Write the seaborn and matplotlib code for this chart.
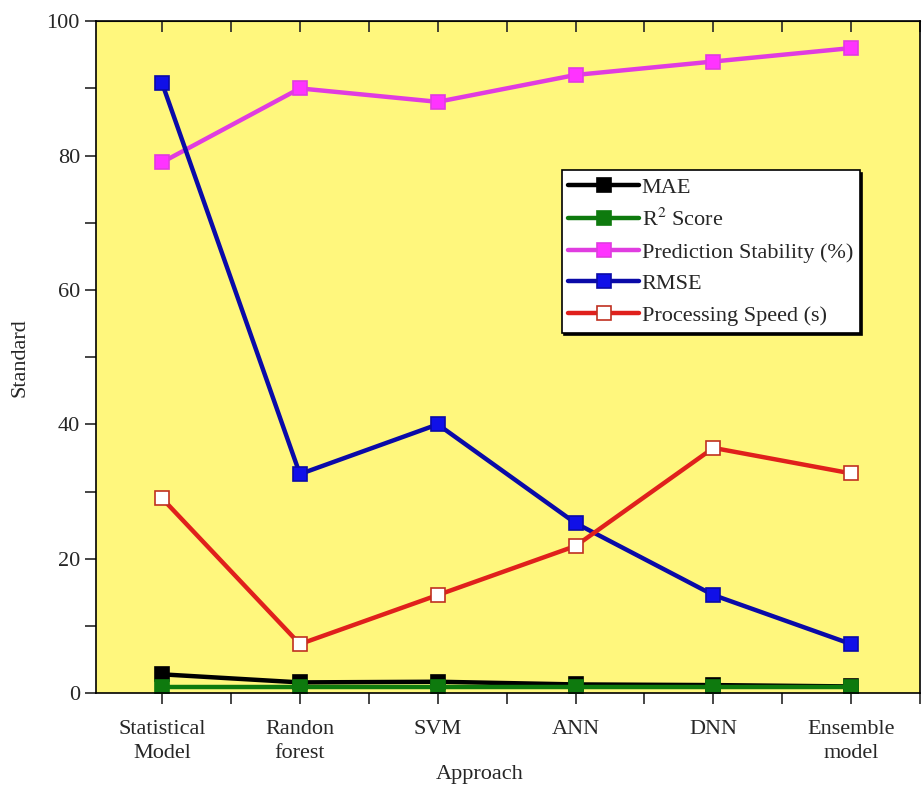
import matplotlib
matplotlib.use('Agg')
import matplotlib.pyplot as plt
import pandas as pd
import numpy as np
import seaborn as sns
from matplotlib.ticker import MultipleLocator

approaches = ['Statistical\nModel', 'Randon\nforest', 'SVM', 'ANN', 'DNN', 'Ensemble\nmodel']
mae = [2.8, 1.6, 1.7, 1.3, 1.2, 1.0]
r2_score = [0.9, 0.9, 0.9, 0.9, 0.9, 0.9]
stability = [79, 90, 88, 92, 94, 96]
rmse = [90.8, 32.6, 40.0, 25.3, 14.6, 7.3]
speed = [29.0, 7.3, 14.6, 21.9, 36.5, 32.7]

series = [
    ('MAE', mae, 'black', 'black'),
    ('R$^2$ Score', r2_score, '#0e7a0e', '#0e7a0e'),
    ('Prediction Stability (%)', stability, '#e03ce0', '#ff33ff'),
    ('RMSE', rmse, '#0a0aa8', '#1010e8'),
    ('Processing Speed (s)', speed, '#e0201c', 'white'),
]

sns.set_style('white')
plt.rcParams['font.family'] = ['Liberation Serif', 'DejaVu Serif']
plt.rcParams['mathtext.fontset'] = 'stix'

fig, ax = plt.subplots(figsize=(9.22, 7.85), dpi=100)
fig.subplots_adjust(left=0.104, right=0.998, top=0.973, bottom=0.117)
ax.set_facecolor('#fff77d')

x = np.arange(len(approaches))
for name, vals, lc, fc in series:
    df = pd.DataFrame({'x': x, 'y': vals})
    ec = '#c03020' if fc == 'white' else lc
    sns.lineplot(data=df, x='x', y='y', ax=ax, color=lc, linewidth=3.2,
                 marker='s', markersize=10, markerfacecolor=fc,
                 markeredgecolor=ec, markeredgewidth=1.2, label=name)

ax.set_xlim(-0.48, 5.5)
ax.set_ylim(0, 100)
ax.set_xticks(x)
ax.set_xticklabels(approaches, fontsize=16, linespacing=1.4)
ax.xaxis.set_minor_locator(MultipleLocator(0.5))
ax.yaxis.set_major_locator(MultipleLocator(20))
ax.yaxis.set_minor_locator(MultipleLocator(10))
ax.tick_params(axis='y', which='both', direction='out', length=8, width=1.2, labelsize=16, left=True)
ax.tick_params(axis='x', which='both', direction='out', length=8, width=1.2, bottom=True, top=False)
ax.tick_params(axis='x', which='major', pad=11)
for sp in ax.spines.values():
    sp.set_linewidth(1.2)
    sp.set_color('black')

# inward ticks on the top spine
ax2 = ax.secondary_xaxis('top')
ax2.set_xticks(x)
ax2.xaxis.set_minor_locator(MultipleLocator(0.5))
ax2.tick_params(axis='x', which='both', direction='in', length=8, width=1.2, labeltop=False)

ax.set_xlabel('Approach', fontsize=16, labelpad=1, x=0.466)
ax.set_ylabel('Standard', fontsize=16, labelpad=12)

leg = ax.legend(loc='upper left', bbox_to_anchor=(0.565, 0.778), fontsize=16,
                frameon=True, fancybox=False, framealpha=1,
                shadow={'color': 'black', 'alpha': 1},
                edgecolor='black', handlelength=3.2, handletextpad=0.1,
                labelspacing=0.5, borderpad=0.3, borderaxespad=0)
leg.get_frame().set_linewidth(1.2)

fig.savefig('out.png', dpi=100, facecolor='white')
